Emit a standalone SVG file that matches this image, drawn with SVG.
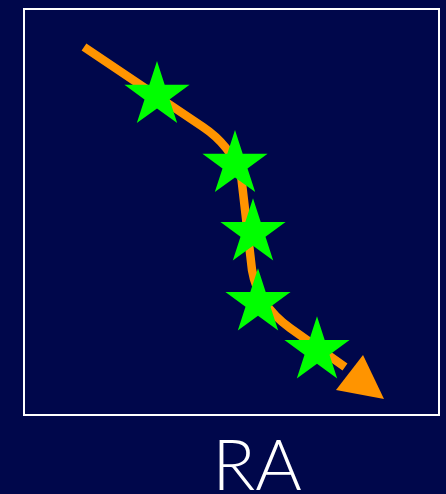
<svg xmlns="http://www.w3.org/2000/svg" width="446" height="494" viewBox="0 0 446 494">
<defs>
<style>
.star{fill:#00ff00}
.path{fill:none;stroke:#ff9400;stroke-width:8.5}
</style>
<polygon id="s" points="0,-34.3 7.7,-10.6 32.6,-10.6 12.5,4.1 20.2,27.8 0,13.1 -20.2,27.8 -12.5,4.1 -32.6,-10.6 -7.7,-10.6"/>
</defs>
<rect x="0" y="0" width="446" height="494" fill="#00074b"/>
<rect id="frame" x="24" y="9" width="415" height="406" fill="none" stroke="#ffffff" stroke-width="2"/>
<g id="connectors">
<path class="path" d="M84,47 L203,127 Q230,145 241,175 L252,270 Q258,305 290,328 L345,367"/>
<polygon points="384,399 336,390 363,355" fill="#ff9400"/>
</g>
<g id="star1"><use href="#s" class="star" transform="translate(157,95.3)"/></g>
<g id="star2"><use href="#s" class="star" transform="translate(235,164.3)"/></g>
<g id="star3"><use href="#s" class="star" transform="translate(253,232.6)"/></g>
<g id="star4"><use href="#s" class="star" transform="translate(258,302.6)"/></g>
<g id="star5"><use href="#s" class="star" transform="translate(317,350.6)"/></g>
<text x="257" y="490" text-anchor="middle" font-family="Lato, 'Liberation Sans', sans-serif" font-weight="300" font-size="71" fill="#ffffff">RA</text>
</svg>
